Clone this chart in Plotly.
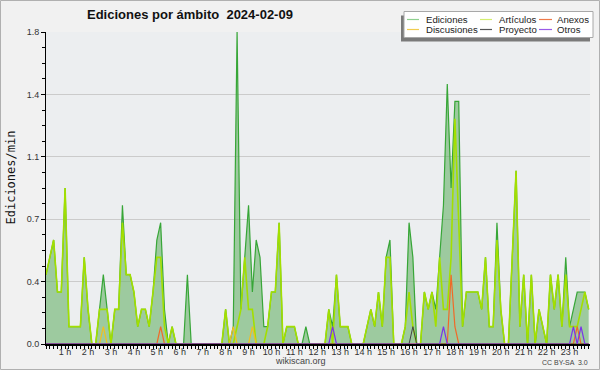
import plotly.graph_objects as go

# 10-minute bins from 00:10 to 23:50 (edits per minute), one row per hour
ediciones = [
    0.4, 0.5, 0.6, 0.3, 0.3,            # 0 h (00:10-00:50)
    0.9, 0.1, 0.1, 0.1, 0.1, 0.5,       # 1 h
    0.2, 0.0, 0.0, 0.2, 0.4, 0.2,       # 2 h
    0.0, 0.2, 0.2, 0.8, 0.4, 0.4,       # 3 h
    0.3, 0.1, 0.2, 0.2, 0.1, 0.3,       # 4 h
    0.6, 0.7, 0.2, 0.0, 0.1, 0.0,       # 5 h
    0.0, 0.0, 0.4, 0.0, 0.0, 0.0,       # 6 h
    0.0, 0.0, 0.0, 0.0, 0.0, 0.0,       # 7 h
    0.2, 0.0, 0.1, 1.8, 0.2, 0.5,       # 8 h
    0.8, 0.3, 0.6, 0.5, 0.1, 0.1,       # 9 h
    0.3, 0.3, 0.7, 0.0, 0.1, 0.1,       # 10 h
    0.1, 0.0, 0.0, 0.1, 0.0, 0.0,       # 11 h
    0.0, 0.0, 0.0, 0.2, 0.1, 0.4,       # 12 h
    0.1, 0.1, 0.1, 0.0, 0.0, 0.0,       # 13 h
    0.0, 0.1, 0.2, 0.1, 0.3, 0.1,       # 14 h
    0.5, 0.6, 0.0, 0.0, 0.0, 0.1,       # 15 h
    0.7, 0.5, 0.0, 0.0, 0.3, 0.2,       # 16 h
    0.3, 0.2, 0.5, 0.8, 1.5, 0.9,       # 17 h
    1.4, 1.4, 0.1, 0.3, 0.3, 0.3,       # 18 h
    0.3, 0.2, 0.5, 0.1, 0.1, 0.7,       # 19 h
    0.2, 0.0, 0.0, 0.5, 1.0, 0.1,       # 20 h
    0.4, 0.0, 0.4, 0.0, 0.2, 0.1,       # 21 h
    0.0, 0.4, 0.2, 0.4, 0.1, 0.5,       # 22 h
    0.1, 0.2, 0.3, 0.3, 0.3, 0.2,       # 23 h
]

articulos = [
    0.4, 0.5, 0.6, 0.3, 0.3,
    0.9, 0.1, 0.1, 0.1, 0.1, 0.5,
    0.2, 0.0, 0.0, 0.2, 0.2, 0.2,
    0.0, 0.2, 0.2, 0.7, 0.4, 0.4,
    0.3, 0.1, 0.2, 0.2, 0.1, 0.3,
    0.5, 0.5, 0.1, 0.0, 0.1, 0.0,
    0.0, 0.0, 0.0, 0.0, 0.0, 0.0,
    0.0, 0.0, 0.0, 0.0, 0.0, 0.0,
    0.2, 0.0, 0.0, 0.1, 0.2, 0.5,
    0.2, 0.2, 0.0, 0.0, 0.0, 0.1,
    0.3, 0.3, 0.7, 0.0, 0.1, 0.1,
    0.1, 0.0, 0.0, 0.0, 0.0, 0.0,
    0.0, 0.0, 0.0, 0.2, 0.0, 0.4,
    0.1, 0.1, 0.1, 0.0, 0.0, 0.0,
    0.0, 0.1, 0.2, 0.1, 0.3, 0.1,
    0.5, 0.5, 0.0, 0.0, 0.0, 0.1,
    0.3, 0.1, 0.0, 0.0, 0.3, 0.2,
    0.3, 0.1, 0.5, 0.2, 0.2, 0.5,
    1.3, 0.7, 0.1, 0.3, 0.3, 0.3,
    0.3, 0.2, 0.5, 0.1, 0.1, 0.6,
    0.2, 0.0, 0.0, 0.5, 1.0, 0.1,
    0.4, 0.0, 0.4, 0.0, 0.2, 0.1,
    0.0, 0.4, 0.2, 0.4, 0.1, 0.4,
    0.1, 0.1, 0.1, 0.2, 0.3, 0.2,
]

discusiones = [
    0, 0, 0, 0, 0,
    0, 0, 0, 0, 0, 0,
    0, 0, 0, 0, 0.1, 0,
    0, 0, 0, 0, 0, 0,
    0, 0, 0, 0, 0, 0,
    0, 0, 0, 0, 0, 0,
    0, 0, 0, 0, 0, 0,
    0, 0, 0, 0, 0, 0,
    0, 0, 0.1, 0, 0, 0,
    0, 0.1, 0, 0, 0, 0,
    0, 0, 0, 0, 0, 0,
    0, 0, 0, 0, 0, 0,
    0, 0, 0, 0, 0, 0,
    0, 0, 0, 0, 0, 0,
    0, 0, 0, 0, 0, 0,
    0, 0, 0, 0, 0, 0,
    0, 0, 0, 0, 0, 0,
    0, 0, 0, 0, 0, 0,
    0, 0, 0, 0, 0, 0,
    0, 0, 0, 0, 0, 0,
    0, 0, 0, 0, 0, 0,
    0, 0, 0, 0, 0, 0,
    0, 0, 0, 0, 0, 0,
    0, 0, 0, 0, 0, 0,
]

anexos = [
    0, 0, 0, 0, 0,
    0, 0, 0, 0, 0, 0,
    0, 0, 0, 0, 0, 0,
    0, 0, 0, 0, 0, 0,
    0, 0, 0, 0, 0, 0,
    0, 0.1, 0, 0, 0, 0,
    0, 0, 0, 0, 0, 0,
    0, 0, 0, 0, 0, 0,
    0, 0, 0, 0, 0, 0,
    0, 0, 0, 0, 0, 0,
    0, 0, 0, 0, 0, 0,
    0, 0, 0, 0, 0, 0,
    0, 0, 0, 0, 0, 0,
    0, 0, 0, 0, 0, 0,
    0, 0, 0, 0, 0, 0,
    0, 0, 0, 0, 0, 0,
    0, 0, 0, 0, 0, 0,
    0, 0, 0, 0, 0, 0.4,
    0.1, 0, 0, 0, 0, 0,
    0, 0, 0, 0, 0, 0,
    0, 0, 0, 0, 0, 0,
    0, 0, 0, 0, 0, 0,
    0, 0, 0, 0, 0, 0,
    0, 0, 0.1, 0, 0, 0,
]

proyecto = [
    0, 0, 0, 0, 0,
    0, 0, 0, 0, 0, 0,
    0, 0, 0, 0, 0, 0,
    0, 0, 0, 0, 0, 0,
    0, 0, 0, 0, 0, 0,
    0, 0, 0, 0, 0, 0,
    0, 0, 0, 0, 0, 0,
    0, 0, 0, 0, 0, 0,
    0, 0, 0, 0, 0, 0,
    0, 0, 0, 0, 0, 0,
    0, 0, 0, 0, 0, 0,
    0, 0, 0, 0, 0, 0,
    0, 0, 0, 0, 0, 0,
    0, 0, 0, 0, 0, 0,
    0, 0, 0, 0, 0, 0,
    0, 0, 0, 0, 0, 0,
    0, 0.1, 0, 0, 0, 0,
    0, 0, 0, 0, 0, 0,
    0, 0, 0, 0, 0, 0,
    0, 0, 0, 0, 0, 0,
    0, 0, 0, 0, 0, 0,
    0, 0, 0, 0, 0, 0,
    0, 0, 0, 0, 0, 0,
    0, 0, 0, 0, 0, 0,
]

otros = [
    0, 0, 0, 0, 0,
    0, 0, 0, 0, 0, 0,
    0, 0, 0, 0, 0, 0,
    0, 0, 0, 0, 0, 0,
    0, 0, 0, 0, 0, 0,
    0, 0, 0, 0, 0, 0,
    0, 0, 0, 0, 0, 0,
    0, 0, 0, 0, 0, 0,
    0, 0, 0, 0, 0, 0,
    0, 0, 0, 0, 0, 0,
    0, 0, 0, 0, 0, 0,
    0, 0, 0, 0, 0, 0,
    0, 0, 0, 0, 0.1, 0,
    0, 0, 0, 0, 0, 0,
    0, 0, 0, 0, 0, 0,
    0, 0, 0, 0, 0, 0,
    0, 0, 0, 0, 0, 0,
    0, 0, 0, 0.1, 0, 0,
    0, 0, 0, 0, 0, 0,
    0, 0, 0, 0, 0, 0,
    0, 0, 0, 0, 0, 0,
    0, 0, 0, 0, 0, 0,
    0, 0, 0, 0, 0, 0,
    0, 0.1, 0, 0.1, 0, 0,
]

hour_ticks = [1, 2, 3, 4, 5, 6, 7, 8, 9, 10, 11, 12, 13, 14, 15, 16, 17, 18, 19, 20, 21, 22, 23]
hour_labels = ["1 h", "2 h", "3 h", "4 h", "5 h", "6 h", "7 h", "8 h", "9 h", "10 h", "11 h", "12 h",
               "13 h", "14 h", "15 h", "16 h", "17 h", "18 h", "19 h", "20 h", "21 h", "22 h", "23 h"]
y_ticks = [0, 0.36, 0.72, 1.08, 1.44, 1.8]
y_labels = ["0.0", "0.4", "0.7", "1.1", "1.4", "1.8"]

legend_names = ["Ediciones", "Artículos", "Anexos", "Discusiones", "Proyecto", "Otros"]
legend_colors = ["#8fd08f", "#d4ee70", "#ee7a4a", "#f0cc50", "#555555", "#9a5ae8"]

title_text = "Ediciones por ámbito  2024-02-09"

# bin time in hours (bin end)
x = [(i + 1) / 6 for i in range(len(ediciones))]

W, H = 600, 370
L, R, T, B = 46, 10, 32, 26
PW, PH = W - L - R, H - T - B
px_per_hour = 22.93
x0 = 1 / 6
xrange = [x0, x0 + PW / px_per_hour]


def px(xp):
    return (xp - L) / PW


def py(yp):
    return (H - B - yp) / PH


fig = go.Figure()
fig.add_trace(go.Scatter(x=x, y=ediciones, mode="lines", name="Ediciones",
                         line=dict(color="#37a637", width=1.2),
                         fill="tozeroy", fillcolor="rgba(105,178,105,0.6)"))
fig.add_trace(go.Scatter(x=x, y=articulos, mode="lines", name="Artículos",
                         line=dict(color="#a3df00", width=1.6)))
fig.add_trace(go.Scatter(x=x, y=discusiones, mode="lines", name="Discusiones",
                         line=dict(color="#f0c020", width=1.2)))
fig.add_trace(go.Scatter(x=x, y=anexos, mode="lines", name="Anexos",
                         line=dict(color="#f06a28", width=1.2)))
fig.add_trace(go.Scatter(x=x, y=proyecto, mode="lines", name="Proyecto",
                         line=dict(color="#444444", width=1.0)))
fig.add_trace(go.Scatter(x=x, y=otros, mode="lines", name="Otros",
                         line=dict(color="#7b35e8", width=1.2)))

shapes = []
annotations = []

# outer border
shapes.append(dict(type="rect", xref="paper", yref="paper",
                   x0=px(0.5), x1=px(599.5), y0=py(0.5), y1=py(369.5),
                   line=dict(color="#b0b0b0", width=1), fillcolor="rgba(0,0,0,0)", layer="above"))

# legend box with shadow
shapes.append(dict(type="rect", xref="paper", yref="paper",
                   x0=px(401), x1=px(590), y0=py(15.5), y1=py(41.5),
                   line=dict(width=0), fillcolor="#7a7a7a", layer="above"))
shapes.append(dict(type="rect", xref="paper", yref="paper",
                   x0=px(404), x1=px(593), y0=py(11.5), y1=py(37.5),
                   line=dict(color="#a8a8a8", width=1), fillcolor="#ffffff", layer="above"))

col_line_x = [(407, 419), (480, 492), (539, 552)]
col_text_x = [424, 496.5, 555]
row_y = [19.5, 29.5]
for k, (name, col) in enumerate(zip(legend_names, legend_colors)):
    r, c = divmod(k, 3)
    shapes.append(dict(type="line", xref="paper", yref="paper",
                       x0=px(col_line_x[c][0]), x1=px(col_line_x[c][1]),
                       y0=py(row_y[r]), y1=py(row_y[r]),
                       line=dict(color=col, width=1.2), layer="above"))
    annotations.append(dict(text=name, xref="paper", yref="paper",
                            x=px(col_text_x[c]), y=py(row_y[r]),
                            xanchor="left", yanchor="middle", showarrow=False,
                            font=dict(family="Liberation Sans", size=9.6, color="#222222")))

# title
annotations.append(dict(text="<b>" + title_text + "</b>", xref="paper", yref="paper",
                        x=px(85), y=py(14.5), xanchor="left", yanchor="middle", showarrow=False,
                        font=dict(family="Liberation Sans", size=13, color="#111111")))
# y axis title
annotations.append(dict(text="Ediciones/min", xref="paper", yref="paper",
                        x=px(10.5), y=py(178), xanchor="center", yanchor="middle",
                        textangle=-90, showarrow=False,
                        font=dict(family="DejaVu Sans Mono", size=12, color="#111111")))
# footer
annotations.append(dict(text="wikiscan.org", xref="paper", yref="paper",
                        x=px(300), y=py(361), xanchor="center", yanchor="middle", showarrow=False,
                        font=dict(family="Liberation Sans", size=9, color="#444444")))
annotations.append(dict(text="CC BY-SA  3.0", xref="paper", yref="paper",
                        x=px(590), y=py(362), xanchor="right", yanchor="middle", showarrow=False,
                        font=dict(family="Liberation Sans", size=7, color="#444444")))

fig.update_layout(
    width=W, height=H, autosize=False,
    margin=dict(l=L, r=R, t=T, b=B, pad=0),
    paper_bgcolor="#f1f1f1", plot_bgcolor="#eceef0",
    showlegend=False, hovermode=False,
    shapes=shapes, annotations=annotations,
    font=dict(family="Liberation Sans", size=9, color="#333333"),
)
fig.update_xaxes(
    range=xrange, tickmode="array", tickvals=hour_ticks, ticktext=hour_labels,
    ticks="outside", ticklen=3, tickwidth=1, tickcolor="#000000",
    ticklabelstandoff=-5,
    showline=True, linecolor="#000000", linewidth=2,
    showgrid=False, zeroline=False,
    tickfont=dict(family="Liberation Sans", size=9, color="#333333"),
    minor=dict(dtick=1 / 6, tick0=0, ticks="outside", ticklen=3, tickcolor="#000000", showgrid=False),
)
fig.update_yaxes(
    range=[0, 1.8], tickmode="array", tickvals=y_ticks, ticktext=y_labels,
    ticks="outside", ticklen=4, tickwidth=1, tickcolor="#000000",
    showline=True, linecolor="#000000", linewidth=1,
    showgrid=True, gridcolor="#cbcbcb", gridwidth=1, zeroline=False,
    tickfont=dict(family="Liberation Sans", size=9, color="#333333"),
    minor=dict(dtick=0.09, tick0=0, ticks="outside", ticklen=3, tickcolor="#000000", showgrid=False),
)

fig.write_html("out.html", config={"displayModeBar": False, "staticPlot": True},
               post_script="document.body.style.margin='0px';document.body.style.overflow='hidden';")
